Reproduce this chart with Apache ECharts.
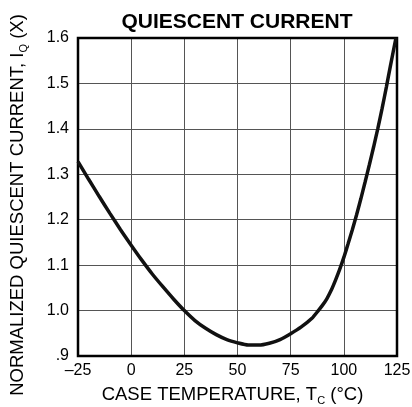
<!DOCTYPE html>
<html>
<head>
<meta charset="utf-8">
<script src="https://cdn.jsdelivr.net/npm/echarts@6/dist/echarts.min.js"></script>
<style>
  html, body { margin: 0; padding: 0; background: #fff; }
  #chart { width: 412px; height: 407px; }
</style>
</head>
<body>
<div id="chart"></div>
<script>
// case temperature (°C) and normalized quiescent current
const temps = [-25, -20, -15, -10, -5, 0, 5, 10, 15, 20, 25, 30, 35, 40, 45, 50, 55, 60, 65, 70, 75, 80, 85, 88, 90, 92, 94, 96, 98, 100, 102, 104, 106, 108, 110, 112, 114, 116, 118, 120, 122, 124.5];
const current = [1.328, 1.289, 1.251, 1.214, 1.178, 1.144, 1.111, 1.080, 1.052, 1.025, 1.000, 0.978, 0.961, 0.947, 0.936, 0.929, 0.924, 0.924, 0.928, 0.936, 0.949, 0.964, 0.983, 1.000, 1.012, 1.026, 1.044, 1.066, 1.090, 1.117, 1.147, 1.178, 1.211, 1.246, 1.283, 1.321, 1.360, 1.401, 1.445, 1.492, 1.541, 1.600];
const xTicks = [-25, 0, 25, 50, 75, 100, 125];
const yTicks = [0.9, 1.0, 1.1, 1.2, 1.3, 1.4, 1.5, 1.6];

const font = '"Liberation Sans", Arial, Helvetica, sans-serif';
const chart = echarts.init(document.getElementById('chart'));

// shared rich styles for axis titles with a subscript
const nameRich = {
    m: { fontFamily: font, fontSize: 18.5, color: '#000', lineHeight: 22, verticalAlign: 'middle' },
    s: { fontFamily: font, fontSize: 11, color: '#000', lineHeight: 22, verticalAlign: 'bottom' }
};

const option = {
    backgroundColor: '#fff',
    animation: false,
    title: {
        text: 'QUIESCENT CURRENT',
        left: 232,
        textAlign: 'center',
        top: 7,
        textStyle: { fontFamily: font, fontWeight: 'bold', fontSize: 21, color: '#000' }
    },
    grid: {
        left: 78, right: 15, top: 38, bottom: 51,
        outerBoundsMode: 'none',
        show: true,
        borderColor: '#000',
        borderWidth: 2.5,
        z: 3
    },
    xAxis: {
        type: 'value',
        min: xTicks[0],
        max: xTicks[xTicks.length - 1],
        interval: 25,
        axisLine: { show: false },
        axisTick: { show: false },
        splitLine: { show: true, lineStyle: { color: '#555', width: 1 } },
        axisLabel: {
            margin: 7,
            fontFamily: font, fontSize: 16, color: '#000',
            formatter: v => v < 0 ? '\u2013' + Math.abs(v) : String(v)
        },
        name: '{m|CASE TEMPERATURE, T}{s|C}{m| (°C)}',
        nameLocation: 'middle',
        nameGap: 28,
        nameTextStyle: { padding: [0, 10, 0, 0], rich: nameRich }
    },
    yAxis: {
        type: 'value',
        min: yTicks[0],
        max: yTicks[yTicks.length - 1],
        interval: 0.1,
        axisLine: { show: false },
        axisTick: { show: false },
        splitLine: { show: true, lineStyle: { color: '#555', width: 1 } },
        axisLabel: {
            margin: 9,
            fontFamily: font, fontSize: 16, color: '#000',
            formatter: v => Math.abs(v - 0.9) < 1e-6 ? '.9' : v.toFixed(1)
        },
        name: '{m|NORMALIZED QUIESCENT CURRENT, I}{s|Q}{m| (X)}',
        nameLocation: 'middle',
        nameRotate: 90,
        nameGap: 49,
        nameTextStyle: { padding: [0, 16, 0, 0], rich: nameRich }
    },
    series: [{
        type: 'line',
        data: temps.map((t, i) => [t, current[i]]),
        showSymbol: false,
        smooth: 0.2,
        lineStyle: { color: '#111', width: 3.5 },
        z: 4
    }]
};

chart.setOption(option);
</script>
</body>
</html>
